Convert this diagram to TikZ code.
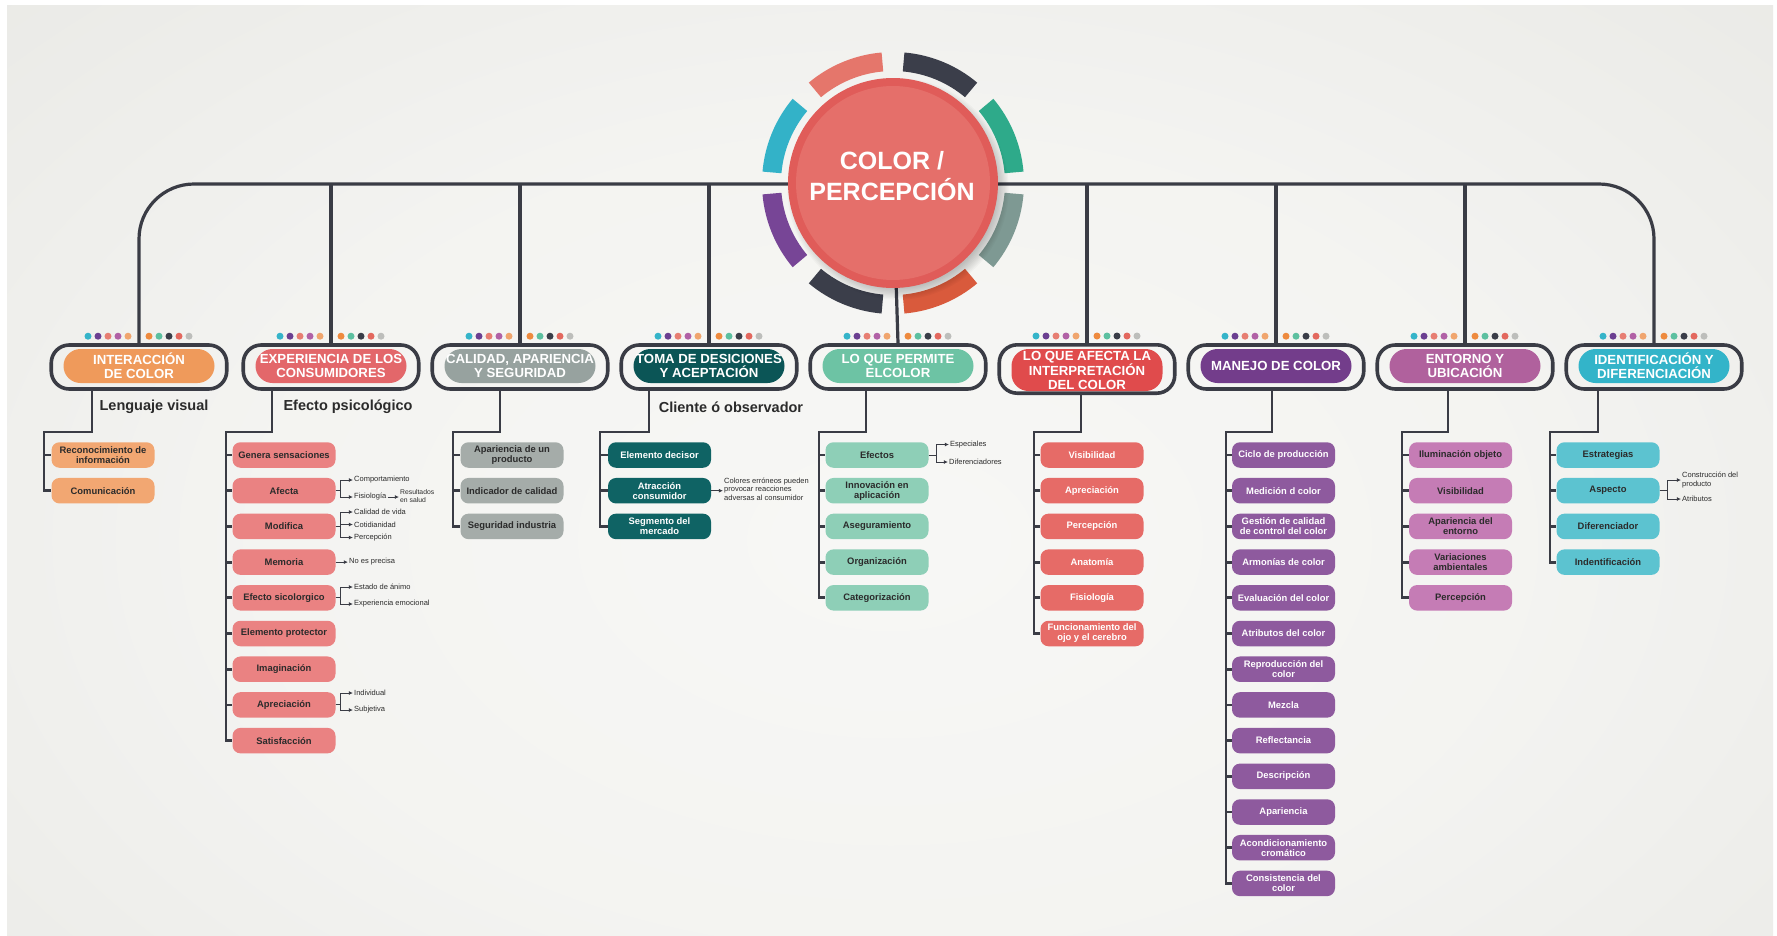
\documentclass[tikz,border=0pt]{standalone}
\usepackage{fontspec}
\setmainfont{Liberation Sans}
\usetikzlibrary{arrows.meta}

% palette
\definecolor{ink}{HTML}{3A3C45}
\definecolor{leafink}{HTML}{2B2B2B}
\definecolor{hubrim}{HTML}{E05C59}
\definecolor{hubfill}{HTML}{E56F6A}
\definecolor{ringgreen}{HTML}{2EAA8A}
\definecolor{ringdark}{HTML}{3B3E4A}
\definecolor{ringsalmon}{HTML}{E5766B}
\definecolor{ringcyan}{HTML}{33B2C8}
\definecolor{ringpurple}{HTML}{774596}
\definecolor{ringorange}{HTML}{D95A3C}
\definecolor{ringsage}{HTML}{7E9993}
\definecolor{dotcyan}{HTML}{35B4C9}
\definecolor{dotpurple}{HTML}{6B3F91}
\definecolor{dotsalmon}{HTML}{E77E72}
\definecolor{dotmagenta}{HTML}{B161A6}
\definecolor{dotpeach}{HTML}{F0A56E}
\definecolor{dotorange}{HTML}{EE8A3E}
\definecolor{dotmint}{HTML}{5CC0A0}
\definecolor{dotdark}{HTML}{3A3D48}
\definecolor{dotcoral}{HTML}{E3685E}
\definecolor{dotgray}{HTML}{BDBEBB}
% one head colour and one leaf colour per column
\definecolor{head1}{HTML}{EF9A5B} \definecolor{leaf1}{HTML}{F2A772}
\definecolor{head2}{HTML}{E3676A} \definecolor{leaf2}{HTML}{EA8282}
\definecolor{head3}{HTML}{97A29F} \definecolor{leaf3}{HTML}{A5ACA9}
\definecolor{head4}{HTML}{0B5556} \definecolor{leaf4}{HTML}{0F6364}
\definecolor{head5}{HTML}{6DC3A4} \definecolor{leaf5}{HTML}{8ECFB7}
\definecolor{head6}{HTML}{E04B4C} \definecolor{leaf6}{HTML}{E66B67}
\definecolor{head7}{HTML}{733D8B} \definecolor{leaf7}{HTML}{8E5A9E}
\definecolor{head8}{HTML}{B0619D} \definecolor{leaf8}{HTML}{C57CB5}
\definecolor{head9}{HTML}{33B4C9} \definecolor{leaf9}{HTML}{5CC3D0}

\pgfdeclareradialshading{panelglow}{\pgfpoint{0bp}{0bp}}{%
  rgb(0bp)=(0.97,0.97,0.962);
  rgb(16bp)=(0.955,0.955,0.945);
  rgb(36bp)=(0.905,0.905,0.89);
  rgb(50bp)=(0.866,0.866,0.846)}

\tikzset{
  mainbar/.style={draw=ink, line width=3.2pt},
  branchline/.style={draw=ink, line width=2.8pt},
  colframe/.style={draw=ink, line width=3.6pt, rounded corners=18pt,
    minimum width=175.5pt, minimum height=44pt, inner sep=0pt},
  colhead/.style={rounded corners=17pt, minimum width=151pt, minimum height=34pt,
    inner sep=0pt, text=white, align=center,
    font=\bfseries\fontsize{13.2}{13.8}\selectfont},
  leafbox/.style={rounded corners=8pt, minimum width=103pt, minimum height=25.5pt,
    inner sep=0pt, align=center, text=leafink,
    font=\bfseries\fontsize{9.4}{10}\selectfont},
  leadtext/.style={text=leafink, font=\bfseries\fontsize{14.5}{16}\selectfont},
  aside/.style={anchor=west, inner sep=1pt, align=left, text=leafink,
    font=\fontsize{7.5}{8.3}\selectfont},
  smallnote/.style={aside, font=\fontsize{6.8}{8}\selectfont},
  pointer/.style={draw=ink, line width=1pt, -{Latex[length=4.2pt,width=4pt]}},
}

\begin{document}
\begin{tikzpicture}[x=1pt,y=-1pt]
\useasboundingbox (0,0) rectangle (1777,935);
% backdrop
\fill[white] (0,0) rectangle (1777,935);
\begin{scope}
  \clip (7,5) rectangle (1773,935);
  \shade[shading=panelglow] (-120,-100) rectangle (1900,1180);
\end{scope}

\coordinate (hubc) at (893,183);
\coordinate (bar) at (0,184);

% column frames
\node[colframe] (fr1) at (139,367) {};
\node[colframe] (fr2) at (331,367) {};
\node[colframe] (fr3) at (520,367) {};
\node[colframe] (fr4) at (709,367) {};
\node[colframe] (fr5) at (898,367) {};
\node[colframe, minimum height=48.4pt] (fr6) at (1087,369) {};
\node[colframe] (fr7) at (1276,367) {};
\node[colframe] (fr8) at (1465,367) {};
\node[colframe] (fr9) at (1654,367) {};

\node[colhead, fill=head1] (hd1) at (139,366) {INTERACCIÓN\\DE COLOR};
\node[colhead, fill=head2] (hd2) at (331,366) {EXPERIENCIA DE LOS\\CONSUMIDORES};
\node[colhead, fill=head3] (hd3) at (520,366) {CALIDAD, APARIENCIA\\Y SEGURIDAD};
\node[colhead, fill=head4] (hd4) at (709,366) {TOMA DE DESICIONES\\Y ACEPTACIÓN};
\node[colhead, fill=head5] (hd5) at (898,366) {LO QUE PERMITE\\ELCOLOR};
\node[colhead, fill=head6, minimum height=42pt] (hd6) at (1087,370) {LO QUE AFECTA LA\\INTERPRETACIÓN\\DEL COLOR};
\node[colhead, fill=head7] (hd7) at (1276,366) {MANEJO DE COLOR};
\node[colhead, fill=head8] (hd8) at (1465,366) {ENTORNO Y\\UBICACIÓN};
\node[colhead, fill=head9] (hd9) at (1654,366) {IDENTIFICACIÓN Y\\DIFERENCIACIÓN};

% top bar and drops
\draw[mainbar, rounded corners=55pt] (fr1.north) -- (fr1.north |- bar) -- (fr9.north |- bar) -- (fr9.north);
\foreach \f in {2,3,4,6,7,8}
  \draw[mainbar] (fr\f.north |- bar) -- (fr\f.north);
\draw[mainbar] (hubc) -- (fr5.north);

% dots on each side of a drop
\foreach \f in {1,...,9} {
  \foreach \c [count=\k] in {dotcyan,dotpurple,dotsalmon,dotmagenta,dotpeach}
    \fill[\c] ([shift={({-61+10*\k},-7)}]fr\f.north) circle (3.5);
  \foreach \c [count=\k] in {dotorange,dotmint,dotdark,dotcoral,dotgray}
    \fill[\c] ([shift={({10*\k},-7)}]fr\f.north) circle (3.5);
}

% ring segments round the hub
\begin{scope}[shift={(hubc)}]
\foreach \k/\c in {0/ringgreen,1/ringdark,2/ringsalmon,3/ringcyan,4/ringpurple,5/ringdark,6/ringorange,7/ringsage}
  \fill[\c] ({-45*\k-5}:112) arc[start angle={-45*\k-5}, end angle={-45*\k-40}, radius=112]
    -- ({-45*\k-40}:131) arc[start angle={-45*\k-40}, end angle={-45*\k-5}, radius=131] -- cycle;
\end{scope}

% hub with soft shadow
\foreach \k in {0,...,9}
  \fill[black, opacity=0.025] ([shift={(5,6)}]hubc) circle ({99+1.3*\k});
\node[circle, fill=hubrim, minimum size=210pt, inner sep=0pt] (hub) at (hubc) {};
\fill[hubfill] (hub.center) circle (97);
\node[text=white, align=center, font=\bfseries\fontsize{25}{31}\selectfont] (hubtext) at (892,176) {COLOR /\\PERCEPCIÓN};

% lead lines under some frames
\node[leadtext] (lead1) at (154,407) {Lenguaje visual};
\node[leadtext] (lead2) at (348,407) {Efecto psicológico};
\node[leadtext] (lead4) at (731,407) {Cliente ó observador};

% leaves
\foreach \t [count=\i] in {{Reconocimiento de\\información},Comunicación}
  \node[leafbox, fill=leaf1] (lf1-\i) at (103,{455+35.7*(\i-1)}) {\t};
\foreach \t [count=\i] in {Genera sensaciones,Afecta,Modifica,Memoria,Efecto sicolorgico,Elemento protector,Imaginación,Apreciación,Satisfacción}
  \node[leafbox, fill=leaf2] (lf2-\i) at (284,{455+35.7*(\i-1)}) {\t};
\foreach \t [count=\i] in {{Apariencia de un\\producto},Indicador de calidad,Seguridad industria}
  \node[leafbox, fill=leaf3] (lf3-\i) at (512,{455+35.7*(\i-1)}) {\t};
\foreach \t [count=\i] in {Elemento decisor,{Atracción\\consumidor},{Segmento del\\mercado}}
  \node[leafbox, fill=leaf4, text=white] (lf4-\i) at (659.5,{455+35.7*(\i-1)}) {\t};
\foreach \t [count=\i] in {Efectos,{Innovación en\\aplicación},Aseguramiento,Organización,Categorización}
  \node[leafbox, fill=leaf5] (lf5-\i) at (877,{455+35.7*(\i-1)}) {\t};
\foreach \t [count=\i] in {Visibilidad,Apreciación,Percepción,Anatomía,Fisiología,{Funcionamiento del\\ojo y el cerebro}}
  \node[leafbox, fill=leaf6, text=white] (lf6-\i) at (1092,{455+35.7*(\i-1)}) {\t};
\foreach \t [count=\i] in {Ciclo de producción,Medición d color,{Gestión de calidad\\de control del color},Armonías de color,Evaluación del color,Atributos del color,{Reproducción del\\color},Mezcla,Reflectancia,Descripción,Apariencia,{Acondicionamiento\\cromático},{Consistencia del\\color}}
  \node[leafbox, fill=leaf7, text=white] (lf7-\i) at (1283.5,{455+35.7*(\i-1)}) {\t};
\foreach \t [count=\i] in {Iluminación objeto,Visibilidad,{Apariencia del\\entorno},{Variaciones\\ambientales},Percepción}
  \node[leafbox, fill=leaf8] (lf8-\i) at (1460.5,{455+35.7*(\i-1)}) {\t};
\foreach \t [count=\i] in {Estrategias,Aspecto,Diferenciador,Indentificación}
  \node[leafbox, fill=leaf9] (lf9-\i) at (1608,{455+35.7*(\i-1)}) {\t};

% elbows and spines: column/elbow x/spine x/leaf count
\foreach \c/\v/\s/\n in {1/92/44/2,2/272/226/9,3/500/453/3,4/649/600/3,5/866/819/5,6/1081/1034/6,7/1272/1226/13,8/1448/1402/5,9/1598/1550/4} {
  \coordinate (v\c) at (\v,432);
  \coordinate (s\c) at (\s,432);
  \draw[branchline] (fr\c.south -| v\c) -- (v\c) -- (s\c) |- (lf\c-\n.west);
  \foreach \i in {1,...,\n}
    \draw[branchline] (lf\c-\i.west -| s\c) -- (lf\c-\i.west);
}

% side notes
\node[aside] (ntA) at (353,480) {Comportamiento};
\node[aside] (ntB) at (353,497) {Fisiología};
\node[smallnote] (ntC) at (399,496.5) {Resultados\\en salud};
\draw[pointer] (lf2-2.east) -- ++(5,0) |- (ntA.west);
\draw[pointer] (lf2-2.east) -- ++(5,0) |- (ntB.west);
\draw[pointer] (ntB.east) -- (ntB.east -| ntC.west);

\node[aside] (ntD) at (353,512) {Calidad de vida};
\node[aside] (ntE) at (353,524.5) {Cotidianidad};
\node[aside] (ntF) at (353,537.5) {Percepción};
\foreach \n in {ntD,ntE,ntF}
  \draw[pointer] (lf2-3.east) -- ++(5,0) |- (\n.west);

\node[aside] (ntG) at (348,562) {No es precisa};
\draw[pointer] (lf2-4.east) -- (lf2-4.east -| ntG.west);

\node[aside] (ntH) at (353,587) {Estado de ánimo};
\node[aside] (ntI) at (353,604) {Experiencia emocional};
\foreach \n in {ntH,ntI}
  \draw[pointer] (lf2-5.east) -- ++(5,0) |- (\n.west);

\node[aside] (ntJ) at (353,693) {Individual};
\node[aside] (ntK) at (353,710) {Subjetiva};
\foreach \n in {ntJ,ntK}
  \draw[pointer] (lf2-8.east) -- ++(5,0) |- (\n.west);

\node[aside] (ntL) at (723,489) {Colores erróneos pueden\\provocar reacciones\\adversas al consumidor};
\draw[pointer] (lf4-2.east) -- (lf4-2.east -| ntL.west);

\node[aside] (ntM) at (949,444.5) {Especiales};
\node[aside] (ntN) at (948,462) {Diferenciadores};
\foreach \n in {ntM,ntN}
  \draw[pointer] (lf5-1.east) -- ++(8,0) |- (\n.west);

\node[aside] (ntO) at (1681,480) {Construcción del\\producto};
\node[aside] (ntP) at (1681,499) {Atributos};
\foreach \n in {ntO,ntP}
  \draw[pointer] (lf9-2.east) -- ++(8,0) |- (\n.west);
\end{tikzpicture}
\end{document}
